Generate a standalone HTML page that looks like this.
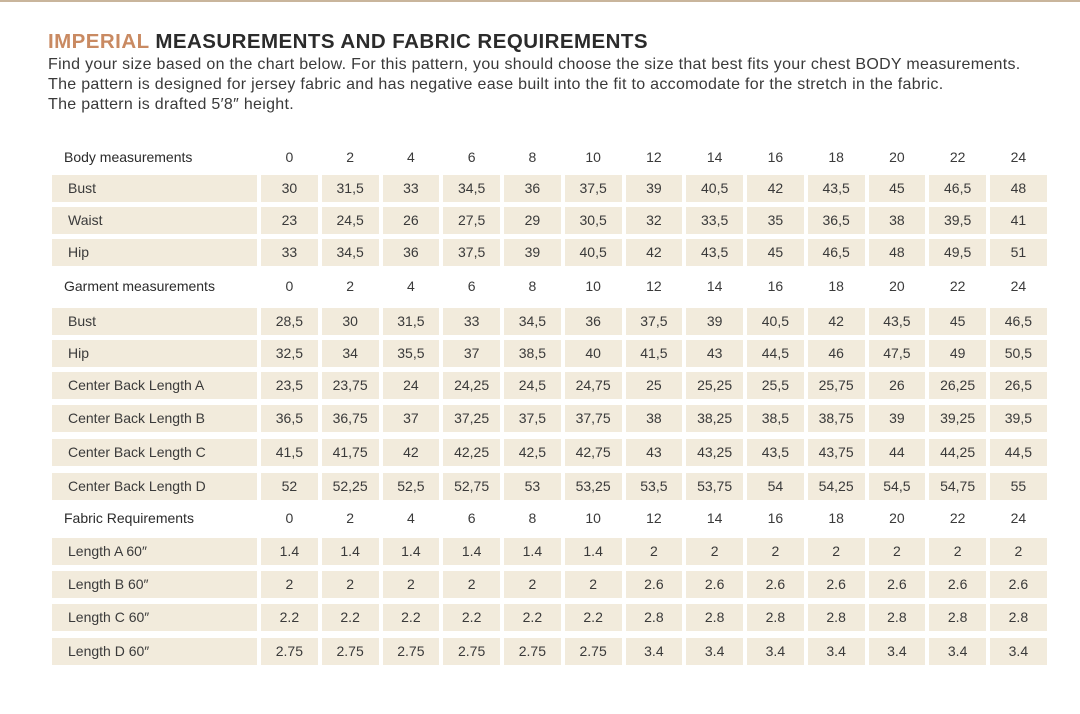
<!DOCTYPE html>
<html><head><meta charset="utf-8"><style>
body{margin:0;width:1080px;height:714px;background:#fff;position:relative;overflow:hidden;font-family:"Liberation Sans",sans-serif;color:#3a3a3a}
.top{position:absolute;left:0;top:0;width:1080px;height:2px;background:#c9b59c}
h1{position:absolute;left:48px;top:30px;margin:0;font-size:20.5px;font-weight:bold;color:#2b2b2b;letter-spacing:0.45px;white-space:nowrap}
h1 span{color:#c98a62}
.intro{position:absolute;left:48px;top:55px;font-size:16px;line-height:20px;color:#3a3a3a;letter-spacing:0.3px;white-space:nowrap}
.r{position:absolute;left:52px;height:27px;display:flex;font-size:14px}
.r div{height:27px;line-height:27px;text-align:center;width:56.75px;margin-left:4px;background:#f2ebdc}
.r div:first-child{width:205px;margin-left:0;text-align:left;padding-left:16px;box-sizing:border-box}
.h div{background:none}
.h div:first-child{padding-left:12px;color:#2b2b2b}
</style></head><body>
<div class="top"></div>
<h1><span>IMPERIAL</span> MEASUREMENTS AND FABRIC REQUIREMENTS</h1>
<div class="intro">Find your size based on the chart below. For this pattern, you should choose the size that best fits your chest BODY measurements.<br>The pattern is designed for jersey fabric and has negative ease built into the fit to accomodate for the stretch in the fabric.<br>The pattern is drafted 5′8″ height.</div>

<div class="r h" style="top:144px"><div>Body measurements</div><div>0</div><div>2</div><div>4</div><div>6</div><div>8</div><div>10</div><div>12</div><div>14</div><div>16</div><div>18</div><div>20</div><div>22</div><div>24</div></div>
<div class="r" style="top:175px"><div>Bust</div><div>30</div><div>31,5</div><div>33</div><div>34,5</div><div>36</div><div>37,5</div><div>39</div><div>40,5</div><div>42</div><div>43,5</div><div>45</div><div>46,5</div><div>48</div></div>
<div class="r" style="top:207px"><div>Waist</div><div>23</div><div>24,5</div><div>26</div><div>27,5</div><div>29</div><div>30,5</div><div>32</div><div>33,5</div><div>35</div><div>36,5</div><div>38</div><div>39,5</div><div>41</div></div>
<div class="r" style="top:239px"><div>Hip</div><div>33</div><div>34,5</div><div>36</div><div>37,5</div><div>39</div><div>40,5</div><div>42</div><div>43,5</div><div>45</div><div>46,5</div><div>48</div><div>49,5</div><div>51</div></div>

<div class="r h" style="top:273px"><div>Garment measurements</div><div>0</div><div>2</div><div>4</div><div>6</div><div>8</div><div>10</div><div>12</div><div>14</div><div>16</div><div>18</div><div>20</div><div>22</div><div>24</div></div>
<div class="r" style="top:308px"><div>Bust</div><div>28,5</div><div>30</div><div>31,5</div><div>33</div><div>34,5</div><div>36</div><div>37,5</div><div>39</div><div>40,5</div><div>42</div><div>43,5</div><div>45</div><div>46,5</div></div>
<div class="r" style="top:340px"><div>Hip</div><div>32,5</div><div>34</div><div>35,5</div><div>37</div><div>38,5</div><div>40</div><div>41,5</div><div>43</div><div>44,5</div><div>46</div><div>47,5</div><div>49</div><div>50,5</div></div>
<div class="r" style="top:372px"><div>Center Back Length A</div><div>23,5</div><div>23,75</div><div>24</div><div>24,25</div><div>24,5</div><div>24,75</div><div>25</div><div>25,25</div><div>25,5</div><div>25,75</div><div>26</div><div>26,25</div><div>26,5</div></div>
<div class="r" style="top:405px"><div>Center Back Length B</div><div>36,5</div><div>36,75</div><div>37</div><div>37,25</div><div>37,5</div><div>37,75</div><div>38</div><div>38,25</div><div>38,5</div><div>38,75</div><div>39</div><div>39,25</div><div>39,5</div></div>
<div class="r" style="top:439px"><div>Center Back Length C</div><div>41,5</div><div>41,75</div><div>42</div><div>42,25</div><div>42,5</div><div>42,75</div><div>43</div><div>43,25</div><div>43,5</div><div>43,75</div><div>44</div><div>44,25</div><div>44,5</div></div>
<div class="r" style="top:473px"><div>Center Back Length D</div><div>52</div><div>52,25</div><div>52,5</div><div>52,75</div><div>53</div><div>53,25</div><div>53,5</div><div>53,75</div><div>54</div><div>54,25</div><div>54,5</div><div>54,75</div><div>55</div></div>

<div class="r h" style="top:505px"><div>Fabric Requirements</div><div>0</div><div>2</div><div>4</div><div>6</div><div>8</div><div>10</div><div>12</div><div>14</div><div>16</div><div>18</div><div>20</div><div>22</div><div>24</div></div>
<div class="r" style="top:538px"><div>Length A 60″</div><div>1.4</div><div>1.4</div><div>1.4</div><div>1.4</div><div>1.4</div><div>1.4</div><div>2</div><div>2</div><div>2</div><div>2</div><div>2</div><div>2</div><div>2</div></div>
<div class="r" style="top:571px"><div>Length B 60″</div><div>2</div><div>2</div><div>2</div><div>2</div><div>2</div><div>2</div><div>2.6</div><div>2.6</div><div>2.6</div><div>2.6</div><div>2.6</div><div>2.6</div><div>2.6</div></div>
<div class="r" style="top:604px"><div>Length C 60″</div><div>2.2</div><div>2.2</div><div>2.2</div><div>2.2</div><div>2.2</div><div>2.2</div><div>2.8</div><div>2.8</div><div>2.8</div><div>2.8</div><div>2.8</div><div>2.8</div><div>2.8</div></div>
<div class="r" style="top:638px"><div>Length D 60″</div><div>2.75</div><div>2.75</div><div>2.75</div><div>2.75</div><div>2.75</div><div>2.75</div><div>3.4</div><div>3.4</div><div>3.4</div><div>3.4</div><div>3.4</div><div>3.4</div><div>3.4</div></div>
</body></html>
